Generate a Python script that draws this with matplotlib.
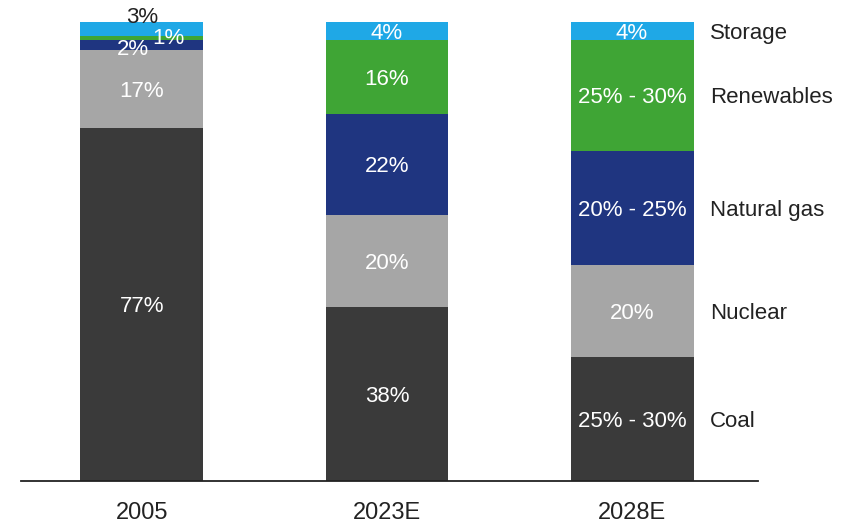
import matplotlib.pyplot as plt
import numpy as np

# Generation mix by year (share of total, %)
years = ["2005", "2023E", "2028E"]
sources = ["Coal", "Nuclear", "Natural gas", "Renewables", "Storage"]
coal = [77, 38, 27]
nuclear = [17, 20, 20]
gas = [2, 22, 25]
renewables = [1, 16, 24]
storage = [3, 4, 4]

coal_labels = ["77%", "38%", "25% - 30%"]
nuclear_labels = ["17%", "20%", "20%"]
gas_labels = ["2%", "22%", "20% - 25%"]
renewables_labels = ["1%", "16%", "25% - 30%"]
storage_labels = ["3%", "4%", "4%"]

colors = ["#3a3a3a", "#a6a6a6", "#1f3580", "#3fa535", "#1fa8e6"]

plt.rcParams['font.family'] = ['Liberation Sans', 'DejaVu Sans']
FS = 16

fig = plt.figure(figsize=(8.52, 5.24), dpi=100)
ax = fig.add_axes([0.0246, 0.082, 0.865, 0.876])

x = np.arange(len(years))
width = 0.502
series = [coal, nuclear, gas, renewables, storage]
labels = [coal_labels, nuclear_labels, gas_labels, renewables_labels, storage_labels]

bottom = np.zeros(len(years))
for vals, labs, col in zip(series, labels, colors):
    vals = np.array(vals, dtype=float)
    ax.bar(x, vals, width, bottom=bottom, color=col)
    for i in range(len(years)):
        cy = bottom[i] + vals[i] / 2
        if i == 0 and vals[i] < 5:
            continue
        ax.text(x[i], cy, labs[i], ha='center', va='center_baseline',
                color='white', fontsize=FS)
    bottom += vals

# small 2005 segments are labelled with offsets
b = coal[0] + nuclear[0]
ax.text(x[0] - 0.037, b + gas[0] / 2 - 0.4, gas_labels[0], ha='center',
        va='center_baseline', color='white', fontsize=FS)
ax.text(x[0] + 0.106, b + gas[0] + renewables[0] / 2 + 0.5, renewables_labels[0],
        ha='center', va='center_baseline', color='white', fontsize=FS)
ax.text(x[0], 101.6, storage_labels[0], ha='center', va='center_baseline',
        color='#222222', fontsize=FS)

# category names to the right of the last bar
b = 0
for vals, name in zip(series, sources):
    ax.text(x[-1] + 0.318, b + vals[-1] / 2, name, ha='left', va='center_baseline',
            color='#222222', fontsize=FS)
    b += vals[-1]

ax.set_xlim(-0.494, 2.514)
ax.set_ylim(0, 100)
ax.set_xticks(x)
ax.set_xticklabels(years, fontsize=17, color='#222222')
ax.tick_params(axis='x', length=0, pad=15)
ax.set_yticks([])
for s in ['top', 'right', 'left']:
    ax.spines[s].set_visible(False)
ax.spines['bottom'].set_color('#222222')
ax.spines['bottom'].set_linewidth(1.3)

fig.savefig("out.png", dpi=100)
